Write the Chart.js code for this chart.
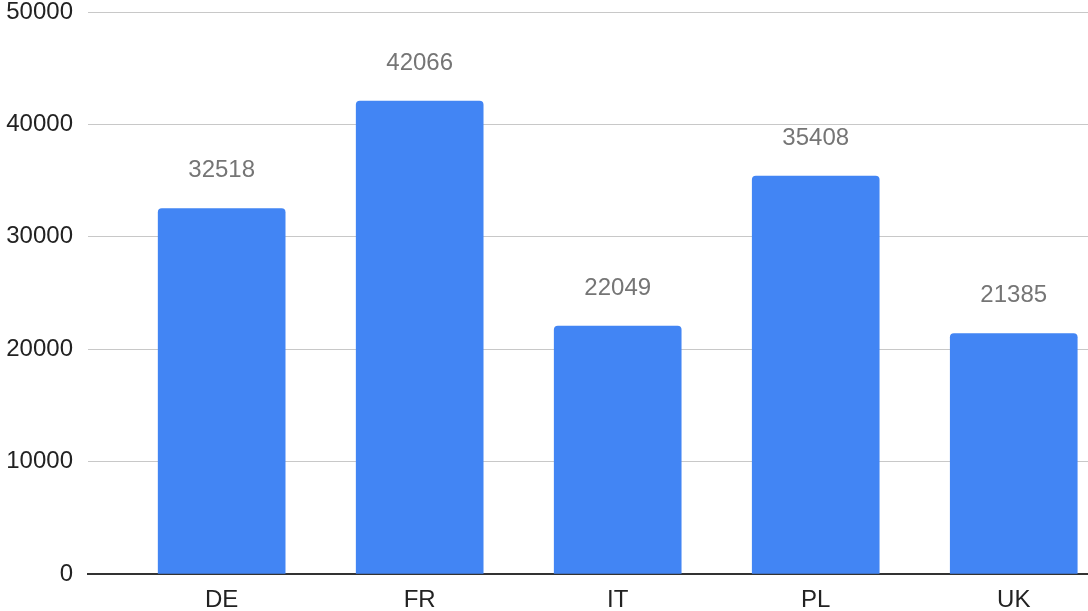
<!DOCTYPE html>
<html lang="en">
<head>
<meta charset="utf-8">
<title>Bar chart</title>
<script src="https://cdn.jsdelivr.net/npm/chart.js@4/dist/chart.umd.min.js"></script>
<style>
  html, body { margin: 0; padding: 0; background: #fff; overflow: hidden; }
  canvas { display: block; }
</style>
</head>
<body>
<canvas id="myChart" width="1088" height="611"></canvas>
<script>
// data
var countries = ['DE', 'FR', 'IT', 'PL', 'UK'];
var values = [32518, 42066, 22049, 35408, 21385];
var yTicks = [0, 10000, 20000, 30000, 40000, 50000];

var FONT = '"Liberation Sans", Arial, sans-serif';
var FS = 24;

// numbers over the bars
var valueLabels = {
  id: 'valueLabels',
  afterDatasetsDraw: function(chart) {
    var ctx = chart.ctx;
    var meta = chart.getDatasetMeta(0);
    ctx.save();
    ctx.font = FS + 'px ' + FONT;
    ctx.fillStyle = '#757575';
    ctx.textAlign = 'center';
    ctx.textBaseline = 'middle';
    meta.data.forEach(function(bar, i) {
      ctx.fillText(String(values[i]), bar.x, bar.y - 38);
    });
    ctx.restore();
  }
};

var points = [];
for (var i = 0; i < values.length; i++) { points.push({ x: i, y: values[i] }); }

new Chart(document.getElementById('myChart'), {
  type: 'bar',
  data: {
    datasets: [{
      data: points,
      backgroundColor: '#4285f4',
      barThickness: 127,
      borderRadius: { topLeft: 4, topRight: 4, bottomLeft: 0, bottomRight: 0 },
      borderSkipped: false
    }]
  },
  options: {
    responsive: false,
    animation: false,
    layout: { padding: 0 },
    plugins: { legend: { display: false }, tooltip: { enabled: false } },
    scales: {
      x: {
        type: 'linear',
        offset: false,
        min: -0.675,
        max: 4.375,
        grid: { display: false, offset: false },
        border: { display: true, color: '#333', width: 2 },
        afterBuildTicks: function(s) {
          s.ticks = countries.map(function(c, i) { return { value: i }; });
        },
        afterFit: function(s) { s.height = 37; s.paddingLeft = 0; s.paddingRight = 0; },
        ticks: {
          autoSkip: false,
          maxRotation: 0,
          padding: 4,
          color: '#222',
          font: { family: FONT, size: FS },
          callback: function(v) { return countries[v]; }
        }
      },
      y: {
        min: 0,
        max: 50000,
        afterBuildTicks: function(s) {
          s.ticks = yTicks.map(function(v) { return { value: v }; });
        },
        afterFit: function(s) { s.width = 88; s.paddingTop = 12; s.paddingBottom = 0; },
        border: { display: false },
        grid: {
          drawTicks: false,
          color: function(c) { return c.tick && c.tick.value === 0 ? 'rgba(0,0,0,0)' : '#c8c8c8'; },
          lineWidth: 1
        },
        ticks: {
          padding: 15,
          color: '#222',
          font: { family: FONT, size: FS, lineHeight: 1 },
          callback: function(v) { return String(v); }
        }
      }
    }
  },
  plugins: [valueLabels]
});
</script>
</body>
</html>
